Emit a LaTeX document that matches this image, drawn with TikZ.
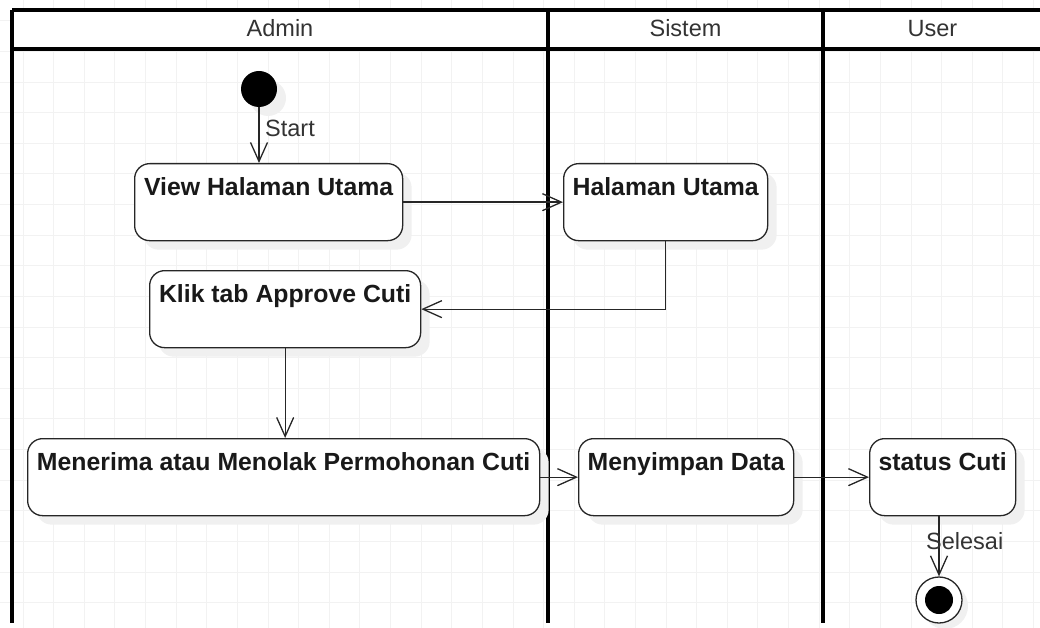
\documentclass[tikz,border=0pt]{standalone}
\usepackage{fontspec}
\setmainfont{Liberation Sans}
\usetikzlibrary{arrows.meta,shadows}

\begin{document}
\begin{tikzpicture}[x=1pt,y=-1pt,
    gridline/.style={draw=black!5, line width=0.8pt},
    lane/.style={line width=3.2pt, black},
    act/.style={draw=black!85, line width=1.3pt, rounded corners=15pt, fill=white,
      font=\fontsize{24.8}{28}\selectfont\bfseries, text=black!90, inner sep=0pt,
      text height=32pt, text depth=45pt, anchor=north west,
      drop shadow={shadow xshift=9pt, shadow yshift=-9pt, fill=black!6, opacity=1}},
    flow/.style={draw=black!85, line width=1.3pt,
      -{Straight Barb[length=19pt,width=17pt,line width=1.3pt]}},
    lbl/.style={font=\fontsize{23.5}{28}\selectfont, text=black!80, inner sep=0pt}]

  \useasboundingbox (0,0) rectangle (1040,628);
  \clip (0,0) rectangle (1040,628);

  % grid
  \foreach \i in {-1,...,34}
    \draw[gridline] ({23+30.62*\i},0) -- ({23+30.62*\i},628);
  \foreach \j in {-3,...,18}
    \draw[gridline] (0,{82+30.62*\j}) -- (1040,{82+30.62*\j});

  % swimlanes
  \fill[white] (12,10) rectangle (1042,49);
  \draw[lane] (12,10) -- (1042,10);
  \draw[lane] (12,49) -- (1042,49);
  \draw[lane] (12,10) -- (12,623);
  \draw[lane] (548,10) -- (548,623);
  \draw[lane] (823,10) -- (823,623);
  \node[lbl, anchor=base] (admin) at (280,37) {Admin};
  \node[lbl, anchor=base] (sistem) at (685.5,37) {Sistem};
  \node[lbl, anchor=base] (user) at (932.5,37) {User};

  % start
  \node[circle, fill=black, minimum size=36pt, inner sep=0pt,
    drop shadow={shadow xshift=9pt, shadow yshift=-9pt, fill=black!6, opacity=1}] (start) at (259,89) {};

  % activities
  \node[act, minimum width=268pt] (view) at (134,163) {View Halaman Utama};
  \node[act, minimum width=204pt] (hal) at (563,163) {Halaman Utama};
  \node[act, minimum width=271pt] (klik) at (149,270) {Klik tab Approve Cuti};
  \node[act, minimum width=512pt] (terima) at (27,438) {Menerima atau Menolak Permohonan Cuti};
  \node[act, minimum width=215pt] (simpan) at (578,438) {Menyimpan Data};
  \node[act, minimum width=146pt] (status) at (869,438) {status Cuti};

  % end
  \node[circle, draw=black!85, line width=1.3pt, fill=white, minimum size=46pt, inner sep=0pt,
    drop shadow={shadow xshift=6pt, shadow yshift=-6pt, fill=black!6, opacity=1}] (end) at (939,600) {};
  \node[circle, fill=black, minimum size=28pt, inner sep=0pt] (endin) at (end) {};

  % flows
  \draw[flow] (start.south) -- (start.south |- view.north);
  \node[lbl, anchor=base west] (startlbl) at (265,137) {Start};
  \draw[flow] (view.east) -- (hal.west);
  \draw[flow] (hal.south) |- (klik.east);
  \draw[flow] (klik.south) -- (klik.south |- terima.north);
  \draw[flow] (terima.east) -- (simpan.west);
  \draw[flow] (simpan.east) -- (status.west);
  \draw[flow] (status.south -| end) -- (end.north);
  \node[lbl, anchor=base west] (selesailbl) at (926,549) {Selesai};
\end{tikzpicture}
\end{document}
